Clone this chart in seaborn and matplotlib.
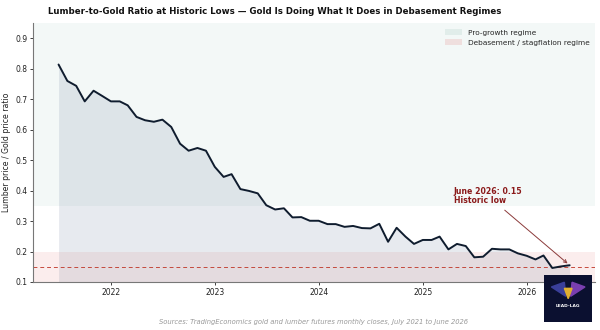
import numpy as np
import pandas as pd
import matplotlib
matplotlib.use("Agg")
import matplotlib.pyplot as plt
import matplotlib.dates as mdates
from matplotlib.patches import Patch
import seaborn as sns

# ---- data ----
start_month = "2021-07-01"
ratio = [0.814, 0.760, 0.744, 0.693, 0.728, 0.711, 0.693, 0.693, 0.680, 0.642,
         0.631, 0.626, 0.633, 0.609, 0.554, 0.531, 0.540, 0.531, 0.478, 0.445,
         0.454, 0.405, 0.399, 0.391, 0.352, 0.338, 0.342, 0.312, 0.313, 0.301,
         0.301, 0.290, 0.290, 0.281, 0.284, 0.277, 0.276, 0.291, 0.232, 0.278,
         0.249, 0.225, 0.238, 0.238, 0.249, 0.207, 0.225, 0.218, 0.181, 0.183,
         0.209, 0.207, 0.207, 0.194, 0.186, 0.174, 0.187, 0.146, 0.151, 0.155]
dates = pd.date_range(start_month, periods=len(ratio), freq="MS")
df = pd.DataFrame({"date": dates, "ratio": ratio})

growth_band = (0.35, 1.0)
debase_band = (0.1, 0.2)
low_level = 0.15
legend_labels = ["Pro-growth regime", "Debasement / stagflation regime"]
title = "Lumber-to-Gold Ratio at Historic Lows \u2014 Gold Is Doing What It Does in Debasement Regimes"
ylabel = "Lumber price / Gold price ratio"
source = "Sources: TradingEconomics gold and lumber futures monthly closes, July 2021 to June 2026"
annot = "June 2026: 0.15\nHistoric low"

sns.set_theme(style="ticks")
plt.rcParams["font.family"] = ["DejaVu Sans"]

fig = plt.figure(figsize=(6, 3.3), dpi=100)
ax = fig.add_axes([0.055, 0.1455, 0.937, 0.7845])

ax.axhspan(*growth_band, color="#5f9e8f", alpha=0.07, lw=0, zorder=0)
ax.axhspan(*debase_band, color="#e07070", alpha=0.12, lw=0, zorder=0)

ax.fill_between(df["date"], 0.0, df["ratio"], color="#5b6f8f", alpha=0.14, lw=0, zorder=1)
sns.lineplot(data=df, x="date", y="ratio", ax=ax, color="#0f1c2e", lw=1.4, zorder=3)
ax.axhline(low_level, color="#c0392b", lw=0.7, ls=(0, (4, 3)), alpha=0.9, zorder=2)

ax.set_ylim(0.1, 0.95)
ax.set_yticks([0.1, 0.2, 0.3, 0.4, 0.5, 0.6, 0.7, 0.8, 0.9])
ax.xaxis.set_major_locator(mdates.YearLocator())
ax.xaxis.set_major_formatter(mdates.DateFormatter("%Y"))
ax.tick_params(labelsize=5.5, length=2, width=0.6, pad=2, colors="#222222")
ax.set_xlabel("")
ax.set_ylabel(ylabel, fontsize=5.6, color="#222222", labelpad=3)
sns.despine(ax=ax)
for s in ["left", "bottom"]:
    ax.spines[s].set_color("#777777")
    ax.spines[s].set_linewidth(0.8)

ax.annotate(annot, xy=(df["date"].iloc[-1], df["ratio"].iloc[-1]),
            xytext=(mdates.date2num(pd.Timestamp("2025-04-20")), 0.382),
            fontsize=5.6, fontweight="bold", color="#8b1a1a", ha="left", va="center",
            linespacing=1.0,
            arrowprops=dict(arrowstyle="->", color="#8b3a3a", lw=0.7))

handles = [Patch(facecolor="#5f9e8f", alpha=0.12, edgecolor="none"),
           Patch(facecolor="#e07070", alpha=0.18, edgecolor="none")]
ax.legend(handles, legend_labels, loc="upper right", frameon=False, fontsize=5.3,
          handlelength=2.2, handleheight=0.9, borderaxespad=0.4, labelspacing=0.5)

fig.text(0.457, 0.965, title, ha="center", va="center", fontsize=6.2, fontweight="bold", color="#111111")
fig.text(0.523, 0.025, source, ha="center", va="center", fontsize=4.9, style="italic", color="#999999")

# logo box
lax = fig.add_axes([0.907, 0.024, 0.08, 0.142])
lax.set_facecolor("#0b1030")
lax.set_xticks([]); lax.set_yticks([])
for s in lax.spines.values():
    s.set_visible(False)
lax.set_xlim(0, 1); lax.set_ylim(0, 1)
lax.fill([0.15, 0.45, 0.42], [0.75, 0.55, 0.85], color="#3a3f9a")
lax.fill([0.85, 0.55, 0.58], [0.75, 0.55, 0.85], color="#7a3fb0")
lax.fill([0.42, 0.58, 0.5], [0.72, 0.72, 0.5], color="#e0b030")
lax.text(0.5, 0.35, "LEAD-LAG", color="white", fontsize=3.2, fontweight="bold", ha="center", va="center")

fig.savefig("out.png", dpi=100)
